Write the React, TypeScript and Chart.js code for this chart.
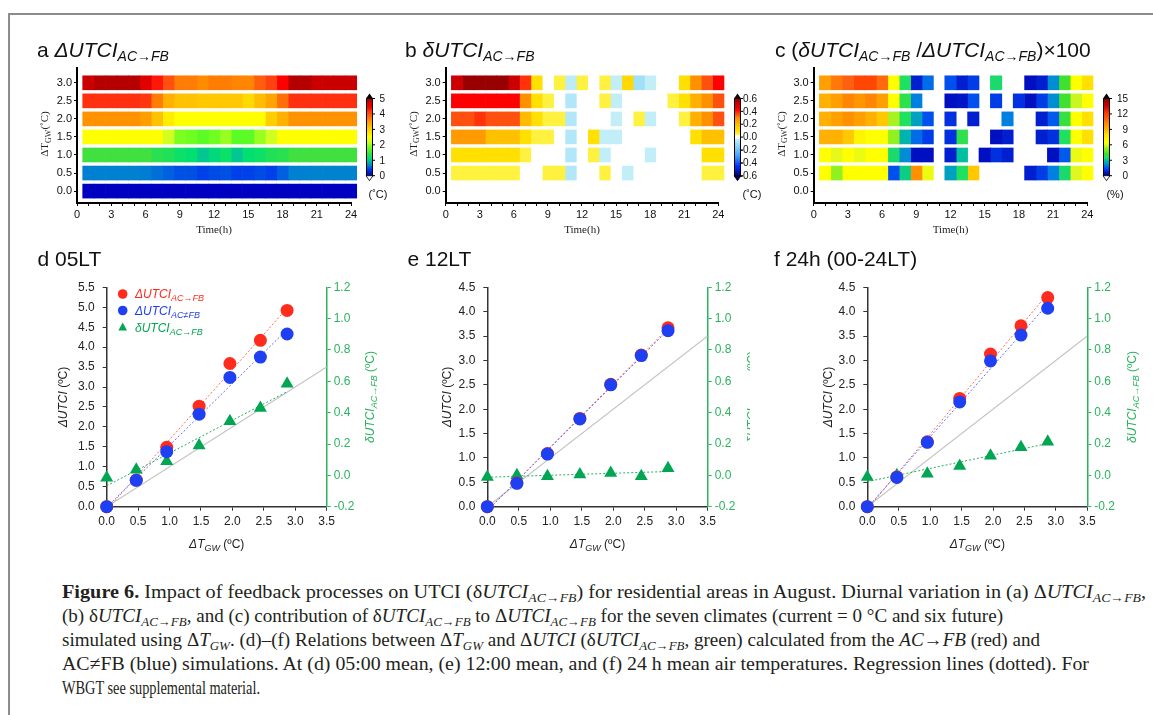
import React, { useEffect, useLayoutEffect, useRef } from 'react';
import { Chart, registerables } from 'chart.js';

Chart.register(...registerables);

// ================= DATA =================
const hours = [1, 2, 3, 4, 5, 6, 7, 8, 9, 10, 11, 12, 13, 14, 15, 16, 17, 18, 19, 20, 21, 22, 23, 24];
const dTgwRows = [0.0, 0.5, 1.0, 1.5, 2.0, 2.5, 3.0];
const timeTickLabels = [0, 3, 6, 9, 12, 15, 18, 21, 24];

// (a) ΔUTCI AC→FB (°C); rows: ΔT_GW 0.0 … 3.0; columns: hour 1 … 24
const deltaUTCI = [
  [0, 0, 0, 0, 0, 0, 0, 0, 0, 0, 0, 0, 0, 0, 0, 0, 0, 0, 0, 0, 0, 0, 0, 0],
  [0.65, 0.65, 0.65, 0.65, 0.65, 0.64, 0.6, 0.55, 0.5, 0.5, 0.45, 0.48, 0.5, 0.45, 0.45, 0.48, 0.45, 0.55, 0.65, 0.65, 0.66, 0.66, 0.66, 0.66],
  [1.45, 1.45, 1.45, 1.45, 1.45, 1.45, 1.35, 1.3, 1.2, 1.15, 1.0, 1.1, 1.2, 1.0, 1.15, 1.2, 1.3, 1.35, 1.45, 1.45, 1.45, 1.45, 1.45, 1.45],
  [2.5, 2.5, 2.5, 2.5, 2.5, 2.5, 2.5, 2.2, 1.9, 1.85, 1.75, 1.85, 2.0, 1.75, 1.75, 2.0, 2.2, 2.5, 2.5, 2.5, 2.5, 2.5, 2.5, 2.5],
  [3.55, 3.55, 3.55, 3.55, 3.55, 3.45, 3.15, 2.7, 2.5, 2.5, 2.5, 2.5, 2.5, 2.5, 2.5, 2.5, 3.05, 3.3, 3.55, 3.55, 3.55, 3.55, 3.55, 3.55],
  [4.2, 4.2, 4.2, 4.2, 4.2, 4.15, 3.7, 3.3, 3.15, 3.15, 3.1, 3.1, 3.1, 3.1, 2.9, 3.2, 3.4, 3.8, 4.2, 4.2, 4.2, 4.2, 4.2, 4.2],
  [4.75, 4.9, 4.9, 4.9, 4.9, 4.6, 4.3, 4.0, 3.7, 3.7, 3.6, 3.7, 3.7, 3.65, 3.65, 3.9, 4.1, 4.4, 4.9, 4.9, 4.75, 4.75, 4.75, 4.75],
];

// (b) δUTCI AC→FB (°C)
const deltaSmallUTCI = [
  [0, 0, 0, 0, 0, 0, 0, 0, 0, 0, 0, 0, 0, 0, 0, 0, 0, 0, 0, 0, 0, 0, 0, 0],
  [0.04, 0.04, 0.04, 0.04, 0.04, 0.04, 0, 0, 0.05, 0.05, -0.07, 0, 0, 0.05, 0, -0.04, 0, 0, 0, 0, 0, 0, 0.05, 0.05],
  [0.1, 0.1, 0.1, 0.1, 0.1, 0.1, 0.05, 0, 0, 0, -0.07, 0, 0.05, -0.04, 0, 0, 0, -0.04, 0, 0, 0, 0, 0.1, 0.1],
  [0.27, 0.27, 0.27, 0.19, 0.19, 0.19, 0.1, 0.05, 0.05, 0, -0.07, 0, 0.1, -0.04, -0.04, 0, 0, 0, 0, 0, 0, 0.1, 0.19, 0.19],
  [0.35, 0.35, 0.38, 0.35, 0.35, 0.35, 0.2, 0.1, 0.05, 0.05, -0.07, 0, 0, 0, -0.04, 0, 0.05, -0.04, 0, 0, 0.05, 0.22, 0.3, 0.35],
  [0.43, 0.43, 0.43, 0.43, 0.43, 0.43, 0.3, 0.1, 0.05, 0, -0.07, 0, 0, 0.05, -0.04, 0, 0, 0, 0, 0.05, 0.1, 0.22, 0.3, 0.35],
  [0.52, 0.58, 0.58, 0.58, 0.58, 0.52, 0.38, 0.1, 0, 0.05, -0.05, 0.05, 0, 0.05, -0.04, 0.12, -0.1, -0.04, 0, 0, 0.1, 0.3, 0.35, 0.43],
];

// (c) (δUTCI / ΔUTCI) × 100 (%); null = not shown
const contribPct = [
  [null, null, null, null, null, null, null, null, null, null, null, null, null, null, null, null, null, null, null, null, null, null, null, null],
  [6.5, 5.3, 6.5, 6.5, 6.5, 6.5, 1.5, 3.2, 10, 6.2, null, 2.5, 3.5, 8.5, null, null, null, null, 0.8, 1.2, 2.0, 3.4, 6.0, 6.5],
  [6.5, 6.1, 6.5, 6.2, 6.5, 6.5, 3.4, 2.2, 0.5, 0.5, null, 0.8, 3.0, null, 0.5, 1.0, 0.8, null, null, null, 0.5, 1.6, 6.2, 6.5],
  [9, 9, 8.5, 7, 6.5, 6.5, 5.3, 2.8, 1.8, 1.2, null, 1.0, 3.8, null, null, 0.5, 0.8, null, null, 0.8, 1.0, 3.5, 6.5, 8],
  [9, 9.5, 10, 9.5, 9, 8.5, 5.5, 3.5, 2.5, 1.5, null, 1.0, null, 0.8, null, null, 2.0, null, null, 0.8, 1.6, 4.0, 6.5, 8],
  [9, 9.5, 10.2, 9.8, 10.2, 9.5, 6.5, 3.8, 2.0, null, null, 0.5, 0.6, 1.5, null, 1.2, null, 1.0, 0.5, 1.2, 2.2, 4.2, 5.8, 6.5],
  [9.5, 10.5, 11, 11.8, 11.8, 10.8, 6.5, 3.5, 0.8, 1.8, null, 1.5, 0.8, 1.2, null, 3.4, null, null, 0.5, 0.8, 2.2, 4.2, 6.5, 8],
];

const cbTicksA = [0, 1, 2, 3, 4, 5];
const cbTicksB = [-0.6, -0.4, -0.2, 0, 0.2, 0.4, 0.6];
const cbTicksC = [0, 3, 6, 9, 12, 15];

// (d)-(f) scatter panels
const dTgw = [0, 0.47, 0.955, 1.47, 1.96, 2.445, 2.87];
const utciFB_05 = [0, 0.67, 1.49, 2.52, 3.59, 4.17, 4.92];
const utciNoFB_05 = [0, 0.66, 1.38, 2.32, 3.24, 3.75, 4.33];
const fbEffect_05 = [-0.015, 0.035, 0.09, 0.19, 0.345, 0.43, 0.585];
const utciFB_12 = [0, 0.49, 1.09, 1.81, 2.51, 3.11, 3.67];
const utciNoFB_12 = [0, 0.48, 1.08, 1.8, 2.5, 3.1, 3.61];
const fbEffect_12 = [-0.01, 0.0, -0.005, 0.005, 0.015, -0.005, 0.045];
const utciFB_24 = [0, 0.61, 1.33, 2.22, 3.13, 3.71, 4.29];
const utciNoFB_24 = [0, 0.6, 1.32, 2.15, 2.99, 3.52, 4.07];
const fbEffect_24 = [-0.01, 0.0, 0.01, 0.06, 0.125, 0.18, 0.215];
const oneToOneX = [0, 3.5];

// ================= STYLE =================
const SANS = "'Liberation Sans', Arial, Helvetica, sans-serif";
const SERIF = "'Liberation Serif', 'Times New Roman', serif";
const RED = '#ff2b1c';
const BLUE = '#1e3ff2';
const GREEN = '#00a651';
const GREEN_AX = '#2bb35e';

const stopsA: [number, string][] = [
  [0, '#0000c0'], [0.45, '#0040e8'], [0.55, '#0060e0'], [0.65, '#0080d0'], [1.0, '#00c890'], [1.15, '#00e070'],
  [1.45, '#40e040'], [1.8, '#60ff20'], [2.2, '#d0ff20'], [2.5, '#ffff00'], [3.1, '#ffc800'], [3.6, '#ff8c00'],
  [4.0, '#ff5010'], [4.2, '#ff3010'], [4.4, '#ff0000'], [4.6, '#e00000'], [4.9, '#b40000'], [5, '#a00000'],
];
const stopsB: [number, string][] = [
  [-0.6, '#00007f'], [-0.45, '#0030ff'], [-0.3, '#40a0ff'], [-0.1, '#a0e0f8'], [-0.03, '#c8f0f8'], [-0.025, '#ffffff'],
  [0.025, '#ffffff'], [0.03, '#fff440'], [0.06, '#fff040'], [0.1, '#ffe000'], [0.19, '#ffc000'], [0.25, '#ffa000'],
  [0.3, '#ff9000'], [0.35, '#ff5010'], [0.43, '#ff0000'], [0.52, '#cc0000'], [0.58, '#990000'], [0.6, '#900000'],
];
const stopsC: [number, string][] = [
  [0, '#000090'], [0.5, '#0010c0'], [0.8, '#0020d0'], [1.0, '#0030e0'], [1.5, '#0050f0'], [2, '#0080e0'],
  [2.5, '#00a0c0'], [3, '#00c0a0'], [3.5, '#20e060'], [4.2, '#40e030'], [5.3, '#90f020'], [6, '#e0f820'],
  [6.5, '#ffff00'], [8, '#ffe000'], [9, '#ffb000'], [10, '#ff9000'], [11, '#ff6010'], [12, '#ff4000'],
  [13.5, '#d00000'], [15, '#800000'],
];

Chart.defaults.font.family = SANS;
Chart.defaults.color = '#222';

// ================= HELPERS =================
type Seg = { t: string; i?: boolean; s?: boolean; b?: boolean };

function segFont(s: Seg, size: number, sub: number, fam: string) {
  return `${s.i ? 'italic ' : ''}${s.b ? 'bold ' : ''}${s.s ? sub : size}px ${fam}`;
}

function drawRich(ctx: CanvasRenderingContext2D, segs: Seg[], x: number, y: number, o: any) {
  const fam = o.fam || SANS;
  const sub = o.sub || o.size * 0.7;
  const drop = o.drop !== undefined ? o.drop : o.size * 0.22;
  ctx.save();
  ctx.translate(x, y);
  if (o.rot) ctx.rotate(-Math.PI / 2);
  let w = 0;
  const ws = segs.map((s) => {
    ctx.font = segFont(s, o.size, sub, fam);
    const m = ctx.measureText(s.t).width;
    w += m;
    return m;
  });
  let cx = o.align === 'center' ? -w / 2 : o.align === 'right' ? -w : 0;
  ctx.fillStyle = o.color || '#111';
  ctx.textAlign = 'left';
  ctx.textBaseline = 'alphabetic';
  segs.forEach((s, k) => {
    ctx.font = segFont(s, o.size, sub, fam);
    ctx.fillText(s.t, cx, s.s ? drop : 0);
    cx += ws[k];
  });
  ctx.restore();
}

function hexRgb(h: string) {
  const n = parseInt(h.slice(1), 16);
  return [(n >> 16) & 255, (n >> 8) & 255, n & 255];
}

function makeCmap(stops: [number, string][]) {
  const st = stops.map(([v, c]) => [v, hexRgb(c)] as [number, number[]]);
  return (v: number | null | undefined) => {
    if (v === null || v === undefined) return 'rgba(0,0,0,0)';
    if (v <= st[0][0]) return `rgb(${st[0][1].join(',')})`;
    for (let k = 1; k < st.length; k++) {
      if (v <= st[k][0]) {
        const [v0, c0] = st[k - 1];
        const [v1, c1] = st[k];
        const f = (v - v0) / (v1 - v0 || 1);
        const c = c0.map((q, j) => Math.round(q + (c1[j] - q) * f));
        return `rgb(${c.join(',')})`;
      }
    }
    return `rgb(${st[st.length - 1][1].join(',')})`;
  };
}

const fmt1 = (v: number) => (Math.abs(v) < 1e-9 ? 0 : v).toFixed(1);

function pts(xs: number[], ys: number[]) {
  return xs.map((x, k) => ({ x, y: ys[k] }));
}

function fitLine(xs: number[], ys: number[]) {
  const n = xs.length;
  const mx = xs.reduce((a, b) => a + b, 0) / n;
  const my = ys.reduce((a, b) => a + b, 0) / n;
  let sxy = 0;
  let sxx = 0;
  for (let k = 0; k < n; k++) {
    sxy += (xs[k] - mx) * (ys[k] - my);
    sxx += (xs[k] - mx) * (xs[k] - mx);
  }
  const b = sxy / sxx;
  const a = my - b * mx;
  const x0 = Math.min(...xs);
  const x1 = Math.max(...xs);
  return [{ x: x0, y: a + b * x0 }, { x: x1, y: a + b * x1 }];
}

// ================= HEATMAP CONFIG =================
function heatConfig(p: any) {
  const cmap = makeCmap(p.stops);
  const datasets = hours.map((h, hi) => ({
    data: dTgwRows
      .map((r, ri) => ({ x: [h - 0.5, h + 0.5], y: r, v: p.grid[ri][hi] }))
      .filter((d) => d.v !== null),
    backgroundColor: (c: any) => cmap(c.raw ? c.raw.v : null),
    borderWidth: 0,
    barThickness: 14,
    grouped: false,
    clip: false,
  }));
  const c = p.canvas;
  const A = p.area;
  const tickFont = { family: SANS, size: 11 };
  const decor = {
    id: 'decorHeat',
    afterDraw(chart: any) {
      const ctx = chart.ctx as CanvasRenderingContext2D;
      ctx.save();
      ctx.translate(-c.left, -c.top);
      drawRich(ctx, p.title, p.titleX, 57, { size: 21, sub: 14, drop: 4, color: '#111' });
      const a = chart.chartArea;
      const midX = c.left + (a.left + a.right) / 2;
      drawRich(ctx, [{ t: 'Time(h)' }], midX, 233, { size: 11, fam: SERIF, align: 'center', color: '#222' });
      drawRich(ctx, [{ t: 'ΔT' }, { t: 'GW', s: true }, { t: '(˚C)' }], c.left + a.left - 33 + 4, 134, {
        size: 11, sub: 8, drop: 2.5, fam: SERIF, align: 'center', rot: true, color: '#222',
      });
      // colour bar
      const vmin = p.stops[0][0];
      const vmax = p.stops[p.stops.length - 1][0];
      const yTop = 98.5;
      const yBot = 175.7;
      const x0 = p.cb.x;
      const w = 5;
      const grad = ctx.createLinearGradient(0, yBot, 0, yTop);
      p.stops.forEach(([v, col]: [number, string]) => grad.addColorStop((v - vmin) / (vmax - vmin), col));
      ctx.fillStyle = grad;
      ctx.fillRect(x0, yTop, w, yBot - yTop);
      ctx.strokeStyle = '#000';
      ctx.lineWidth = 1;
      ctx.strokeRect(x0 - 0.5, yTop, w + 1, yBot - yTop);
      // arrows
      ctx.beginPath();
      ctx.moveTo(x0 - 1, yTop);
      ctx.lineTo(x0 + w + 1, yTop);
      ctx.lineTo(x0 + w / 2, yTop - 5);
      ctx.closePath();
      ctx.fillStyle = p.cb.topArrow;
      ctx.fill();
      ctx.beginPath();
      ctx.moveTo(x0 - 1, yBot);
      ctx.lineTo(x0 + w + 1, yBot);
      ctx.lineTo(x0 + w / 2, yBot + 5);
      ctx.closePath();
      ctx.fillStyle = p.cb.botArrow;
      ctx.fill();
      ctx.strokeStyle = '#000';
      ctx.lineWidth = 0.8;
      ctx.stroke();
      // ticks
      ctx.font = `10px ${SANS}`;
      ctx.fillStyle = '#111';
      ctx.textAlign = 'right';
      ctx.textBaseline = 'middle';
      p.cb.ticks.forEach((v: number) => {
        const y = yBot - ((v - vmin) / (vmax - vmin)) * (yBot - yTop);
        ctx.beginPath();
        ctx.moveTo(x0 + w, y);
        ctx.lineTo(x0 + w + 3, y);
        ctx.strokeStyle = '#000';
        ctx.lineWidth = 1;
        ctx.stroke();
        ctx.fillText(p.cb.fmt(v), p.cb.labelRight, y + 0.5);
      });
      drawRich(ctx, [{ t: p.cb.unit }], p.cb.unitX, 198, { size: 11, align: 'center', color: '#111' });
      ctx.restore();
    },
  };
  return {
    type: 'bar',
    data: { datasets },
    options: {
      indexAxis: 'y',
      responsive: false,
      animation: false,
      devicePixelRatio: 1,
      events: [],
      layout: { padding: { top: A.top - c.top, right: c.left + c.width - A.right, left: 0, bottom: 0 } },
      plugins: { legend: { display: false }, tooltip: { enabled: false } },
      scales: {
        x: {
          type: 'linear', position: 'bottom', min: 0, max: 24, offset: false,
          ticks: {
            stepSize: 1, autoSkip: false, maxRotation: 0, padding: 2, font: tickFont, color: '#111',
            callback: (v: number) => (timeTickLabels.includes(v) ? String(v) : ''),
          },
          grid: { drawOnChartArea: false, drawTicks: true, tickLength: 3, color: '#000', offset: false },
          border: { display: true, color: '#000', width: 2 },
          afterFit: (s: any) => { s.height = c.top + c.height - A.bottom; },
        },
        y: {
          type: 'linear', position: 'left', min: -0.33, max: 3.41, offset: false,
          ticks: { stepSize: 0.5, includeBounds: false, padding: 2, font: tickFont, color: '#111', callback: (v: number) => fmt1(v) },
          grid: { drawOnChartArea: false, drawTicks: true, tickLength: 3, color: '#000', offset: false },
          border: { display: true, color: '#000', width: 2 },
          afterFit: (s: any) => { s.width = A.left - c.left; },
        },
      },
    },
    plugins: [decor],
  };
}

// ================= SCATTER CONFIG =================
function scatterConfig(p: any) {
  const c = p.canvas;
  const A = p.area;
  const tickFont = { family: SANS, size: 12 };
  const decor = {
    id: 'decorScatter',
    afterDraw(chart: any) {
      const ctx = chart.ctx as CanvasRenderingContext2D;
      ctx.save();
      ctx.translate(-c.left, -c.top);
      drawRich(ctx, [{ t: p.title }], p.titleX, 266, { size: 21, color: '#111' });
      const a = chart.chartArea;
      const midY = c.top + (a.top + a.bottom) / 2;
      const midX = c.left + (a.left + a.right) / 2;
      drawRich(ctx, [{ t: 'ΔUTCI', i: true }, { t: ' (ºC)' }], p.leftTitleX + 4.3, midY, {
        size: 12, align: 'center', rot: true, color: '#222',
      });
      drawRich(ctx, [{ t: 'δUTCI', i: true }, { t: 'AC→FB', i: true, s: true }, { t: ' (ºC)' }], p.rightTitleX + 4.3, midY, {
        size: 12, sub: 9, drop: 3, align: 'center', rot: true, color: GREEN_AX,
      });
      drawRich(ctx, [{ t: 'ΔT', i: true }, { t: 'GW', i: true, s: true }, { t: ' (ºC)' }], midX, 548, {
        size: 12, sub: 9, drop: 3, align: 'center', color: '#222',
      });
      if (p.legend) {
        const rows = [
          { kind: 'circle', color: RED, segs: [{ t: 'ΔUTCI', i: true }, { t: 'AC→FB', i: true, s: true }], y: 294 },
          { kind: 'circle', color: BLUE, segs: [{ t: 'ΔUTCI', i: true }, { t: 'AC≠FB', i: true, s: true }], y: 310.5 },
          { kind: 'tri', color: GREEN, segs: [{ t: 'δUTCI', i: true }, { t: 'AC→FB', i: true, s: true }], y: 327.5 },
        ];
        rows.forEach((r) => {
          ctx.fillStyle = r.color;
          ctx.beginPath();
          if (r.kind === 'circle') {
            ctx.arc(122.7, r.y, 4.8, 0, Math.PI * 2);
          } else {
            ctx.moveTo(122.7, r.y - 5);
            ctx.lineTo(127, r.y + 3);
            ctx.lineTo(118.4, r.y + 3);
            ctx.closePath();
          }
          ctx.fill();
          drawRich(ctx, r.segs, 135, r.y + 4.2, { size: 12, sub: 9, drop: 3, color: r.color });
        });
      }
      ctx.restore();
    },
  };
  const ptBase = { pointBorderWidth: 0, pointHoverRadius: 0, showLine: false, clip: false };
  const lineBase = { type: 'line', borderWidth: 1, borderDash: [2, 2], pointRadius: 0, fill: false, clip: false };
  return {
    type: 'scatter',
    data: {
      datasets: [
        { ...ptBase, data: pts(dTgw, p.noFB), pointStyle: 'circle', pointRadius: 6.5, pointBackgroundColor: BLUE, backgroundColor: BLUE, order: 1, yAxisID: 'y' },
        { ...ptBase, data: pts(dTgw, p.fb), pointStyle: 'circle', pointRadius: 6.5, pointBackgroundColor: RED, backgroundColor: RED, order: 2, yAxisID: 'y' },
        { ...ptBase, data: pts(dTgw, p.eff), pointStyle: 'triangle', pointRadius: 7.5, pointBackgroundColor: GREEN, backgroundColor: GREEN, order: 3, yAxisID: 'y2' },
        { ...lineBase, data: fitLine(dTgw, p.noFB), borderColor: '#5a72ff', order: 4, yAxisID: 'y' },
        { ...lineBase, data: fitLine(dTgw, p.fb), borderColor: '#ff6a55', order: 5, yAxisID: 'y' },
        { ...lineBase, data: fitLine(dTgw, p.eff), borderColor: '#22b060', order: 6, yAxisID: 'y2' },
        { type: 'line', data: oneToOneX.map((x) => ({ x, y: x })), borderColor: '#c4c4c4', borderWidth: 1.2, pointRadius: 0, fill: false, order: 7, yAxisID: 'y' },
      ],
    },
    options: {
      responsive: false,
      animation: false,
      devicePixelRatio: 1,
      events: [],
      layout: { padding: { top: A.top - c.top, right: 0, left: 0, bottom: 0 } },
      plugins: { legend: { display: false }, tooltip: { enabled: false } },
      scales: {
        x: {
          type: 'linear', position: 'bottom', min: 0, max: 3.5,
          ticks: { stepSize: 0.5, includeBounds: false, autoSkip: false, maxRotation: 0, padding: 4, font: tickFont, color: '#222', callback: (v: number) => fmt1(v) },
          grid: { drawOnChartArea: false, drawTicks: true, tickLength: 4, color: '#333' },
          border: { display: true, color: '#333', width: 1.5 },
          afterFit: (s: any) => { s.height = c.top + c.height - A.bottom; },
        },
        y: {
          type: 'linear', position: 'left', min: 0, max: p.yMax,
          ticks: { stepSize: 0.5, includeBounds: false, padding: 8, font: tickFont, color: '#222', callback: (v: number) => fmt1(v) },
          grid: { drawOnChartArea: false, drawTicks: true, tickLength: 4, color: '#333' },
          border: { display: true, color: '#333', width: 1.5 },
          afterFit: (s: any) => { s.width = A.left - c.left; },
        },
        y2: {
          type: 'linear', position: 'right', min: -0.2, max: 1.2,
          ticks: { stepSize: 0.2, padding: 3, font: tickFont, color: GREEN_AX, callback: (v: number) => fmt1(v) },
          grid: { drawOnChartArea: false, drawTicks: true, tickLength: 4, color: GREEN_AX },
          border: { display: true, color: GREEN_AX, width: 1.5 },
          afterFit: (s: any) => { s.width = c.left + c.width - A.right; },
        },
      },
    },
    plugins: [decor],
  };
}

// ================= PANELS =================
const heatPanels = [
  {
    key: 'a', grid: deltaUTCI, stops: stopsA,
    canvas: { left: 30, top: 30, width: 370, height: 210 },
    area: { left: 77, right: 351, top: 68, bottom: 203 },
    titleX: 37,
    title: [{ t: 'a ' }, { t: 'ΔUTCI', i: true }, { t: 'AC→FB', i: true, s: true }],
    cb: { x: 367, labelRight: 385, ticks: cbTicksA, fmt: (v: number) => String(v), unit: '(˚C)', unitX: 378, topArrow: '#000', botArrow: '#fff' },
  },
  {
    key: 'b', grid: deltaSmallUTCI, stops: stopsB,
    canvas: { left: 400, top: 30, width: 370, height: 210 },
    area: { left: 445.7, right: 718.3, top: 68, bottom: 203 },
    titleX: 405,
    title: [{ t: 'b ' }, { t: 'δUTCI', i: true }, { t: 'AC→FB', i: true, s: true }],
    cb: { x: 735, labelRight: 757, ticks: cbTicksB, fmt: (v: number) => fmt1(v), unit: '(˚C)', unitX: 752, topArrow: '#200000', botArrow: '#000050' },
  },
  {
    key: 'c', grid: contribPct, stops: stopsC,
    canvas: { left: 770, top: 30, width: 383, height: 210 },
    area: { left: 813.7, right: 1087.3, top: 68, bottom: 203 },
    titleX: 775,
    title: [
      { t: 'c (' }, { t: 'δUTCI', i: true }, { t: 'AC→FB', i: true, s: true }, { t: ' /' },
      { t: 'ΔUTCI', i: true }, { t: 'AC→FB', i: true, s: true }, { t: ')×100' },
    ],
    cb: { x: 1104, labelRight: 1128, ticks: cbTicksC, fmt: (v: number) => String(v), unit: '(%)', unitX: 1115, topArrow: '#000', botArrow: '#fff' },
  },
];

const scatterPanels = [
  {
    key: 'd', title: 'd 05LT', titleX: 37.5, fb: utciFB_05, noFB: utciNoFB_05, eff: fbEffect_05, yMax: 5.5, legend: true,
    canvas: { left: 30, top: 240, width: 370, height: 320 },
    area: { left: 106.7, right: 326.7, top: 287.3, bottom: 506.7 },
    leftTitleX: 63, rightTitleX: 370,
  },
  {
    key: 'e', title: 'e 12LT', titleX: 407.5, fb: utciFB_12, noFB: utciNoFB_12, eff: fbEffect_12, yMax: 4.5, legend: false,
    canvas: { left: 400, top: 240, width: 350, height: 320 },
    area: { left: 487.3, right: 707.7, top: 287.3, bottom: 506.7 },
    leftTitleX: 447, rightTitleX: 752,
  },
  {
    key: 'f', title: 'f 24h (00-24LT)', titleX: 774, fb: utciFB_24, noFB: utciNoFB_24, eff: fbEffect_24, yMax: 4.5, legend: false,
    canvas: { left: 760, top: 240, width: 393, height: 320 },
    area: { left: 867.3, right: 1087.3, top: 287.3, bottom: 506.7 },
    leftTitleX: 828, rightTitleX: 1132,
  },
];

// ================= COMPONENTS =================
function ChartCanvas({ box, build }: { box: any; build: () => any }) {
  const ref = useRef<HTMLCanvasElement>(null);
  useEffect(() => {
    const chart = new Chart(ref.current as HTMLCanvasElement, build() as any);
    return () => chart.destroy();
  }, []);
  return (
    <canvas
      ref={ref}
      width={box.width}
      height={box.height}
      style={{ position: 'absolute', left: box.left, top: box.top, width: box.width, height: box.height }}
    />
  );
}

const subStyle: React.CSSProperties = { fontSize: '0.68em', verticalAlign: '-0.3em', lineHeight: 0 };
const U = (pre: string, sub: string = 'AC→FB') => (
  <>
    {pre}
    <i>UTCI</i>
    <sub style={subStyle}><i>{sub}</i></sub>
  </>
);
const TGW = (
  <>
    Δ<i>T</i>
    <sub style={subStyle}><i>GW</i></sub>
  </>
);

const captionTargets = [1084, 941, 978, 1027, 198];

function Caption() {
  const refs = useRef<(HTMLSpanElement | null)[]>([]);
  useLayoutEffect(() => {
    const fit = () => {
      refs.current.forEach((el, i) => {
        if (!el) return;
        el.style.transform = 'none';
        const w = el.getBoundingClientRect().width;
        if (w > 0) el.style.transform = `scaleX(${captionTargets[i] / w})`;
      });
    };
    fit();
    const fonts = (document as any).fonts;
    if (fonts && fonts.ready) fonts.ready.then(fit);
  }, []);
  const lines = [
    <>
      <b>Figure 6.</b> Impact of feedback processes on UTCI ({U('δ')}) for residential areas in August. Diurnal variation in (a) {U('Δ')},
    </>,
    <>
      (b) {U('δ')}, and (c) contribution of {U('δ')} to {U('Δ')} for the seven climates (current = 0 °C and six future)
    </>,
    <>
      simulated using {TGW}. (d)–(f) Relations between {TGW} and Δ<i>UTCI</i> ({U('δ')}, green) calculated from the <i>AC→FB</i> (red) and
    </>,
    <>AC≠FB (blue) simulations. At (d) 05:00 mean, (e) 12:00 mean, and (f) 24 h mean air temperatures. Regression lines (dotted). For</>,
    <>WBGT see supplemental material.</>,
  ];
  return (
    <div
      style={{
        position: 'absolute', left: 62, top: 580, width: 1091, height: 130, overflow: 'hidden',
        fontFamily: SERIF, fontSize: 19, color: '#231f20',
      }}
    >
      {lines.map((l, i) => (
        <div key={i} style={{ height: 24, lineHeight: '24px', whiteSpace: 'nowrap' }}>
          <span ref={(el) => { refs.current[i] = el; }} style={{ display: 'inline-block', transformOrigin: '0 50%' }}>
            {l}
          </span>
        </div>
      ))}
    </div>
  );
}

export default function App() {
  return (
    <div style={{ position: 'absolute', left: 0, top: 0, width: 1153, height: 715, overflow: 'hidden', background: '#fff' }}>
      <div
        style={{
          position: 'absolute', left: 8, top: 13, width: 1145, height: 702, boxSizing: 'border-box',
          borderTop: '2px solid #8d8d8d', borderLeft: '2px solid #8d8d8d',
        }}
      />
      {heatPanels.map((p) => (
        <ChartCanvas key={p.key} box={p.canvas} build={() => heatConfig(p)} />
      ))}
      {scatterPanels.map((p) => (
        <ChartCanvas key={p.key} box={p.canvas} build={() => scatterConfig(p)} />
      ))}
      <Caption />
    </div>
  );
}
